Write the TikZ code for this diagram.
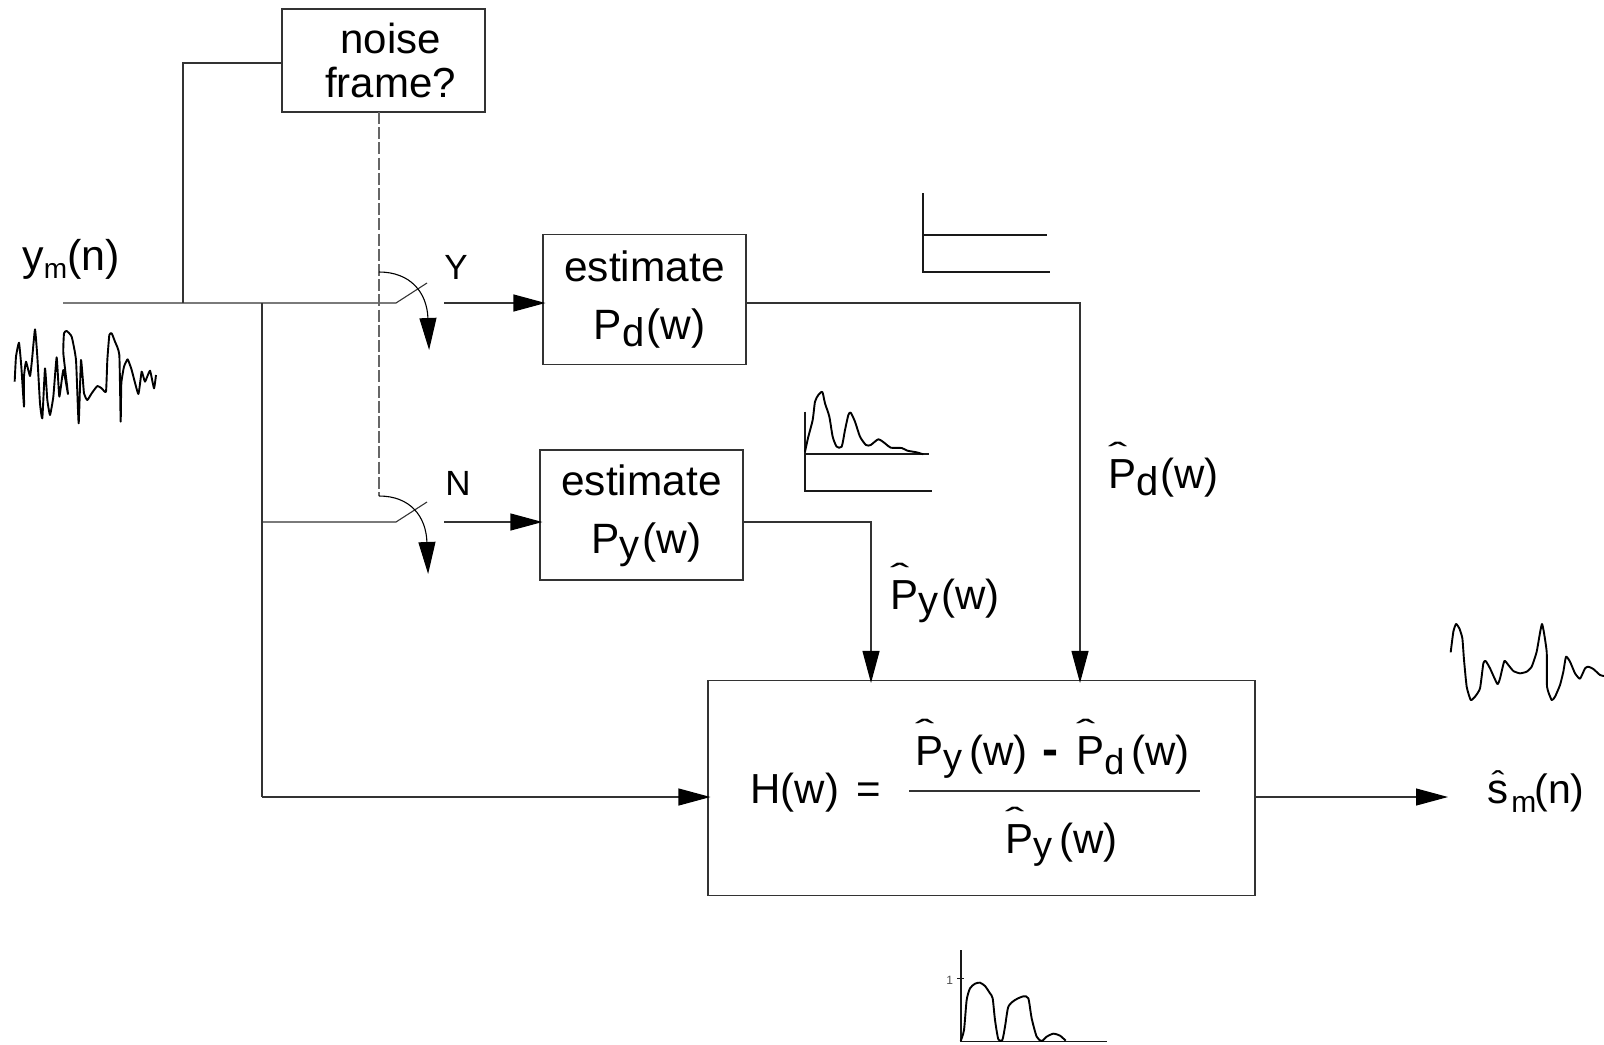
\documentclass[tikz,border=0pt]{standalone}
\usepackage{fontspec}
\setmainfont{Liberation Sans}
\usetikzlibrary{arrows.meta}
% size, drop, character
\newcommand{\subtx}[3]{\raisebox{-#2}{\fontsize{#1}{#1}\selectfont #3}}
\newcommand{\hatsym}[1]{\makebox[0pt][l]{\raisebox{.53em}{\fontsize{16pt}{16pt}\selectfont\scalebox{1.8}[1]{ˆ}}}#1}
\newcommand{\hatlow}[1]{\makebox[0pt][l]{\raisebox{.24em}{\hspace{.1em}\fontsize{15pt}{15pt}\selectfont\scalebox{1.3}[1]{ˆ}}}#1}
\tikzset{
  wire/.style={draw=black!80,line width=0.55pt},
  arrowwire/.style={wire,shorten >=-1.5pt,-{Triangle[length=16pt,width=8.5pt,color=black]}},
  boxnode/.style={draw=black!80,line width=0.55pt,inner sep=0pt,align=center,font=\fontsize{21.2pt}{29pt}\selectfont},
  txt/.style={anchor=base west,inner sep=0pt,font=\fontsize{21pt}{24pt}\selectfont},
  small/.style={anchor=base west,inner sep=0pt,font=\fontsize{17.5pt}{20pt}\selectfont},
  sig/.style={draw=black,line width=0.95pt,line join=round},
  axis/.style={draw=black!90,line width=0.85pt},
  trace/.style={shift={(#1)},scale=0.33333}
}
\begin{document}
\begin{tikzpicture}[x=0.5pt,y=-0.5pt]
\useasboundingbox (0,0) rectangle (1604,1044);
% boxes
\node[boxnode,minimum width=101.5pt,minimum height=51.5pt,font=\fontsize{21pt}{22pt}\selectfont] (noise) at (383.5,60.5) {\hspace*{7pt}noise\\\hspace*{7pt}frame?};
\node[boxnode,minimum width=101.5pt,minimum height=65pt] (estd) at (644.5,299.5) {estimate\\\hspace*{5pt}P\subtx{20pt}{3.5pt}{d}\kern1pt(w)};
\node[boxnode,minimum width=101.5pt,minimum height=65pt] (esty) at (641.5,515) {\rule{0pt}{16pt}estimate\\\hspace*{5pt}P\subtx{20pt}{2.5pt}{y}\kern1.5pt(w)};
\node[draw=black!80,line width=0.55pt,minimum width=273.5pt,minimum height=107.5pt,inner sep=0pt] (hbox) at (981.5,788) {};
% coordinates
\coordinate (start) at (63,303);
\coordinate (j1) at (183,303);
\coordinate (j2) at (262,303);
\coordinate (c1) at (183,63);
\coordinate (swya) at (396,303);
\coordinate (swyb) at (427,283);
\coordinate (outy) at (444,303);
\coordinate (b2) at (262,522);
\coordinate (swna) at (396,522);
\coordinate (swnb) at (427,502);
\coordinate (outn) at (444,522);
\coordinate (b3) at (262,797);
\coordinate (da) at (379,112);
\coordinate (db) at (379,496);
\coordinate (ya) at (379,272);
\coordinate (yb) at (429,347);
\coordinate (na) at (379,496);
\coordinate (nb) at (428,571);
\coordinate (pdc) at (1080,303);
\coordinate (pyc) at (871,522);
\coordinate (out) at (1445,797);
% wires
\draw[wire] (noise.west |- c1) -- (c1) -- (j1);
\draw[wire] (start) -- (swya) -- (swyb);
\draw[wire] (j2) -- (b3);
\draw[wire] (b2) -- (swna) -- (swnb);
\draw[arrowwire] (outy) -- (outy -| estd.west);
\draw[arrowwire] (outn) -- (outn -| esty.west);
\draw[arrowwire] (b3) -- (b3 -| hbox.west);
\draw[arrowwire] (estd.east |- pdc) -- (pdc) -- (pdc |- hbox.north);
\draw[arrowwire] (esty.east |- pyc) -- (pyc) -- (pyc |- hbox.north);
\draw[arrowwire] (hbox.east |- out) -- (out);
\draw[wire,draw=black!60,dash pattern=on 6pt off 1.6pt] (da) -- (db);
\draw[arrowwire,draw=black] (ya) .. controls (410,272) and (427,292) .. (yb);
\draw[arrowwire,draw=black] (na) .. controls (410,496) and (426,516) .. (nb);
% labels
\node[small] (ylab) at (444,279) {Y};
\node[small] (nlab) at (445,495) {N};
\node[txt,font=\fontsize{21.5pt}{24pt}\selectfont] (ym) at (22,270) {y\subtx{14pt}{4pt}{m}(n)};
\node[txt] (pdhat) at (1108,488) {\hatsym{P}\subtx{20pt}{3.5pt}{d}\kern1pt(w)};
\node[txt] (pyhat) at (890,609) {\hatsym{P}\subtx{20pt}{2.5pt}{y}\kern1.5pt(w)};
\node[txt] (hw) at (750,803) {H(w)};
\node[txt] (eq) at (856,803) {=};
\node[txt] (num1) at (915,765) {\hatsym{P}\subtx{19pt}{2.5pt}{y}};
\node[txt] (num1w) at (969,765) {(w)};
\node[txt,font=\bfseries\fontsize{24pt}{24pt}\selectfont] (minus) at (1042,765) {-};
\node[txt] (num2) at (1076,765) {\hatsym{P}\subtx{18pt}{4.5pt}{d}};
\node[txt] (num2w) at (1131,765) {(w)};
\node[txt] (den) at (1005,853) {\hatsym{P}\subtx{19pt}{2.5pt}{y}};
\node[txt] (denw) at (1059,853) {(w)};
\node[txt] (shat) at (1487,803) {\hatlow{s}};
\node[txt] (shm) at (1511,803) {\subtx{15pt}{4.5pt}{m}};
\node[txt,font=\fontsize{20.5pt}{24pt}\selectfont] (shn) at (1534,803) {(n)};
\coordinate (fa) at (909,791);
\coordinate (fb) at (1200,791);
\draw[wire] (fa) -- (fb);
% top spectrum
\coordinate (t1) at (922.7,193.3);
\coordinate (t2) at (922.7,272);
\coordinate (t3) at (1050,272);
\coordinate (t4) at (922.7,235);
\coordinate (t5) at (1046.7,235);
\draw[axis] (t1) -- (t2) -- (t3);
\draw[axis] (t4) -- (t5);
% noisy spectrum
\coordinate (s1) at (805,411.7);
\coordinate (s2) at (805,490.7);
\coordinate (s3) at (932.3,490.7);
\coordinate (s4) at (805,454.3);
\coordinate (s5) at (929.3,454.3);
\draw[axis] (s1) -- (s2) -- (s3);
\draw[axis] (s4) -- (s5);
\begin{scope}[trace={780,180}]
\draw[sig] plot[smooth,tension=0.4] coordinates {(75,815)(85,770)(98,720)(105,665)(115,645)(127,636)(135,670)(148,710)(158,770)(170,800)(185,800)(195,750)(205,705)(212,698)(225,725)(240,770)(258,795)(272,795)(295,778)(315,790)(332,803)(365,804)(382,812)(410,817)(430,823)};
\end{scope}
% gain plot
\coordinate (g1) at (960.7,950);
\coordinate (g2) at (960.7,1041.5);
\coordinate (g3) at (1106.7,1041.5);
\coordinate (g4) at (957.3,978.3);
\coordinate (g5) at (964.3,978.3);
\draw[axis] (g1) -- (g2) -- (g3);
\draw[axis,line width=0.6pt] (g4) -- (g5);
\node[anchor=base west,inner sep=0pt,font=\fontsize{6pt}{6pt}\selectfont,text=black!70] (one) at (946,984) {1};
\begin{scope}[trace={920,930}]
\draw[sig] plot[smooth,tension=0.4] coordinates {(122,333)(132,300)(140,210)(150,175)(165,161)(180,158)(195,168)(210,190)(218,205)(225,270)(235,328)(247,330)(255,290)(265,230)(285,210)(310,199)(325,205)(335,265)(350,320)(365,333)(380,320)(400,311)(420,317)(437,332)};
\end{scope}
% input signal
\begin{scope}[trace={0,220}]
\draw[sig] plot[smooth,tension=0.25] coordinates {(44,485)(48,410)(57,368)(64,440)(72,560)(72,470)(78,425)(90,468)(96,420)(105,328)(112,410)(120,550)(127,595)(135,445)(142,540)(150,585)(160,530)(170,412)(178,530)(190,450)(204,522)(190,400)(192,340)(200,333)(215,350)(228,420)(236,610)(243,420)(252,520)(262,540)(275,520)(292,498)(305,505)(318,515)(322,420)(328,345)(335,340)(345,365)(358,405)(362,605)(364,490)(372,440)(383,418)(395,450)(415,522)(425,455)(435,485)(450,452)(462,505)(468,465)};
\end{scope}
% output signal
\begin{scope}[trace={1420,600}]
\draw[sig] plot[smooth,tension=0.3] coordinates {(92,157)(100,95)(108,72)(118,85)(127,115)(132,180)(140,260)(152,300)(165,290)(180,265)(190,190)(197,183)(210,205)(232,252)(240,235)(253,183)(265,195)(280,213)(300,220)(320,215)(335,200)(350,155)(366,72)(380,155)(381,260)(395,300)(405,290)(420,255)(430,215)(438,170)(450,185)(465,220)(480,236)(495,205)(505,200)(520,207)(540,225)(552,228)};
\end{scope}
\end{tikzpicture}
\end{document}
